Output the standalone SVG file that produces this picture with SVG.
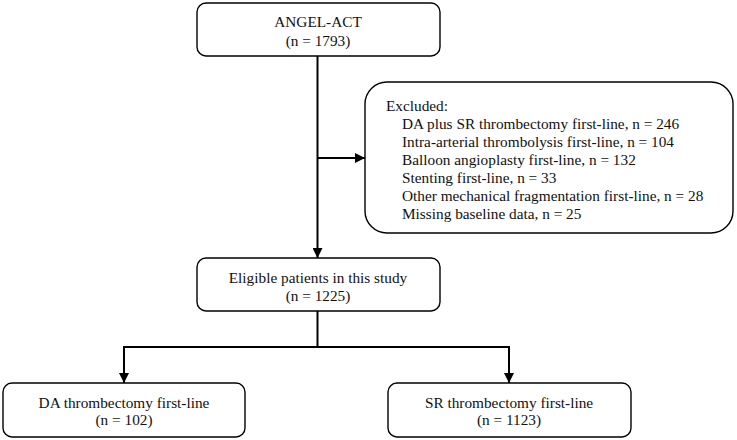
<svg xmlns="http://www.w3.org/2000/svg" width="737" height="440" viewBox="0 0 737 440">
<style>
.box{fill:#fff;stroke:#000;stroke-width:1.4}
.t{font-family:"Liberation Serif","Times New Roman",serif;font-size:15.3px;fill:#111}
.c{text-anchor:middle}
.ln{fill:none;stroke:#000;stroke-width:2}
</style>
<defs>
<marker id="ah" viewBox="0 0 10 10" refX="10" refY="5" markerWidth="10" markerHeight="10" markerUnits="userSpaceOnUse" orient="auto">
<path d="M0,0 L10,5 L0,10 Z" fill="#000"/>
</marker>
</defs>
<rect width="737" height="440" fill="#fff"/>
<g id="connectors">
<line class="ln" x1="317.5" y1="56" x2="317.5" y2="258" marker-end="url(#ah)"/>
<line class="ln" x1="317.5" y1="158" x2="365" y2="158" marker-end="url(#ah)"/>
<polyline class="ln" points="317.5,311 317.5,347 124,347"/>
<line class="ln" x1="124" y1="346" x2="124" y2="383" marker-end="url(#ah)"/>
<polyline class="ln" points="317.5,347 509,347 509,383" marker-end="url(#ah)"/>
</g>
<g id="n-angel">
<rect class="box" x="197" y="3" width="243" height="53" rx="9"/>
<text class="t c" x="318" y="27">ANGEL-ACT</text>
<text class="t c" x="318" y="46">(n = 1793)</text>
</g>
<g id="n-excluded">
<rect class="box" x="365" y="82" width="368" height="151" rx="22"/>
<text class="t" x="386" y="111">Excluded:</text>
<text class="t" x="402" y="129">DA plus SR thrombectomy first-line, n = 246</text>
<text class="t" x="402" y="147">Intra-arterial thrombolysis first-line, n = 104</text>
<text class="t" x="402" y="165">Balloon angioplasty first-line, n = 132</text>
<text class="t" x="402" y="183">Stenting first-line, n = 33</text>
<text class="t" x="402" y="201">Other mechanical fragmentation first-line, n = 28</text>
<text class="t" x="402" y="219">Missing baseline data, n = 25</text>
</g>
<g id="n-eligible">
<rect class="box" x="197" y="258" width="243" height="53" rx="9"/>
<text class="t c" x="318" y="283">Eligible patients in this study</text>
<text class="t c" x="318" y="301">(n = 1225)</text>
</g>
<g id="n-da">
<rect class="box" x="3" y="383" width="242" height="54" rx="9"/>
<text class="t c" x="124" y="408">DA thrombectomy first-line</text>
<text class="t c" x="124" y="425">(n = 102)</text>
</g>
<g id="n-sr">
<rect class="box" x="388" y="383" width="243" height="54" rx="9"/>
<text class="t c" x="509" y="408">SR thrombectomy first-line</text>
<text class="t c" x="509" y="425">(n = 1123)</text>
</g>
</svg>
